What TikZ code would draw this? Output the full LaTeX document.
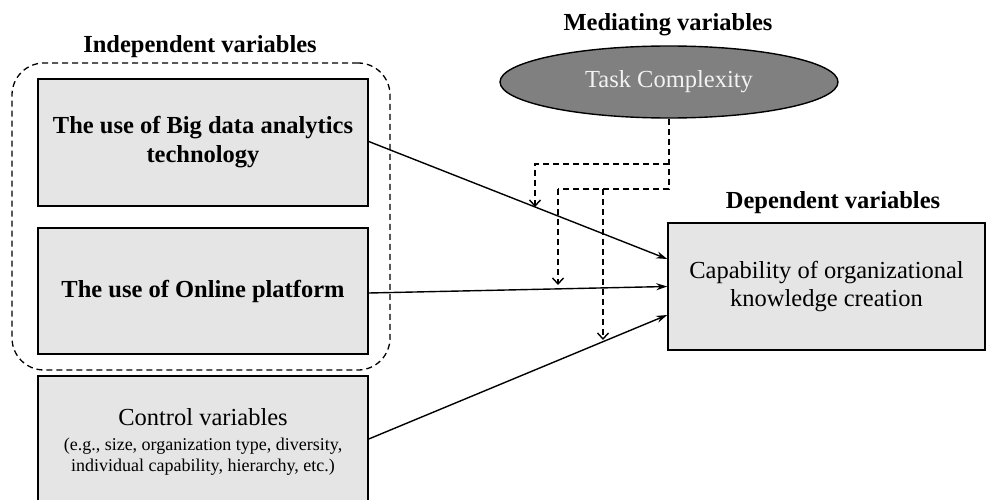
\documentclass[tikz,border=0pt]{standalone}
\usepackage{fontspec}
\setmainfont{Liberation Serif}
\usetikzlibrary{arrows.meta,shapes.geometric}

\tikzset{
  varbox/.style={draw, line width=1.5pt, fill=black!10, align=center,
    inner sep=0pt, font=\fontsize{24.5}{28}\selectfont},
  heading/.style={font=\bfseries\fontsize{24.5}{28}\selectfont, inner sep=0pt},
  effect/.style={line width=1.4pt, -{Stealth[length=11pt,width=7pt]}},
  moderate/.style={line width=1.4pt, dash pattern=on 6pt off 4pt,
    -{Straight Barb[length=6pt,width=11pt]}},
  modline/.style={line width=1.4pt, dash pattern=on 6pt off 4pt},
}

\begin{document}
\begin{tikzpicture}[x=1pt, y=-1pt]
\clip (0,0) rectangle (988,500);
\fill[white] (0,0) rectangle (988,500);

% group of independent variables
\node[draw, line width=1.3pt, dash pattern=on 6pt off 4pt, rounded corners=32pt,
  minimum width=378pt, minimum height=307pt] (indep) at (201,216.5) {};
\node[heading] (indeplbl) at (200,47) {Independent variables};

% variable boxes
\node[varbox, font=\bfseries\fontsize{24.5}{29}\selectfont,
  minimum width=330pt, minimum height=127pt] (bda) at (203,142.5)
  {The use of Big data analytics\\technology};
\node[varbox, font=\bfseries\fontsize{24.5}{29}\selectfont,
  minimum width=330pt, minimum height=126pt] (olp) at (203,291)
  {The use of Online platform};
\node[varbox, minimum width=330pt, minimum height=132pt] (ctrl) at (203,442)
  {Control variables\\[-3pt]{\fontsize{18}{21}\selectfont (e.g., size, organization type, diversity,}\\[-7pt]
   {\fontsize{18}{21}\selectfont individual capability, hierarchy, etc.)}};

\node[varbox, minimum width=317pt, minimum height=127pt] (dep) at (826.5,286.5)
  {Capability of organizational\\knowledge creation};
\node[heading] (deplbl) at (833,203) {Dependent variables};

% mediating variable
\node[draw, line width=1.4pt, ellipse, fill=black!50, text=black!5,
  minimum width=338pt, minimum height=72pt, inner sep=0pt,
  font=\fontsize{24.5}{28}\selectfont] (tc) at (669,82) {Task Complexity};
\node[heading] (medlbl) at (668,25) {Mediating variables};

% direct effects
\draw[effect] ([yshift=1pt]bda.east) -- ([yshift=27.5pt]dep.west);
\draw[effect] ([yshift=-2pt]olp.east) -- (dep.west);
\draw[effect] ([yshift=3pt]ctrl.east) -- ([yshift=-28.5pt]dep.west);

% moderating paths from task complexity
\coordinate (ja) at (669,164);
\coordinate (jb) at (669,189);
\coordinate (ka) at (535,164);
\coordinate (kb) at (558,189);
\coordinate (kc) at (603,189);
\coordinate (ta) at (535,207);
\coordinate (tb) at (558,285);
\coordinate (tc2) at (603,340);
\draw[modline] (tc.south) -- (jb) -- (kb);
\draw[moderate] (ja) -- (ka) -- (ta);
\draw[moderate] (kb) -- (tb);
\draw[moderate] (kc) -- (tc2);
\end{tikzpicture}
\end{document}
